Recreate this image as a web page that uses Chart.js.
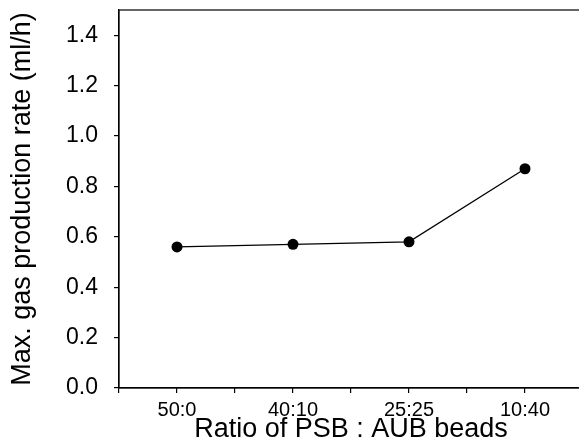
<!DOCTYPE html>
<html>
<head>
<meta charset="utf-8">
<script src="https://cdn.jsdelivr.net/npm/chart.js@4/dist/chart.umd.min.js"></script>
<style>
  html, body { margin: 0; padding: 0; background: #fff; overflow: hidden; }
  #wrap { width: 600px; height: 446px; }
</style>
</head>
<body>
<div id="wrap"><canvas id="chart" width="600" height="446"></canvas></div>
<script>
// Bead ratio groups (PSB : AUB) and the measured maximum gas production rate
const ratioLabels = ['50:0', '40:10', '25:25', '10:40'];
const maxGasRate = [0.56, 0.57, 0.58, 0.87];
const yTickValues = [0, 0.2, 0.4, 0.6, 0.8, 1.0, 1.2, 1.4];
const xTickValues = [0.5, 1, 1.5, 2, 2.5, 3, 3.5, 4, 4.5];

const points = maxGasRate.map((v, i) => ({ x: i + 1, y: v }));
const FONT = "'Liberation Sans', Arial, Helvetica, sans-serif";

// Box outline around the plotting area
const frame = {
  id: 'frame',
  afterDraw(chart) {
    const { ctx, chartArea: a } = chart;
    ctx.save();
    ctx.strokeStyle = '#000';
    ctx.lineWidth = 1.2;
    ctx.strokeRect(a.left, a.top, a.right - a.left, a.bottom - a.top);
    ctx.restore();
  }
};

new Chart(document.getElementById('chart'), {
  type: 'line',
  data: {
    datasets: [{
      data: points,
      borderColor: '#000',
      borderWidth: 1.3,
      backgroundColor: '#000',
      pointRadius: 5.5,
      pointHoverRadius: 5.5,
      pointBorderWidth: 0,
      tension: 0,
      fill: false
    }]
  },
  options: {
    responsive: false,
    devicePixelRatio: 1,
    animation: false,
    events: [],
    layout: { padding: { top: 10, right: 17, left: 0, bottom: 0 } },
    plugins: { legend: { display: false }, tooltip: { enabled: false } },
    scales: {
      x: {
        type: 'linear',
        min: 0.5,
        max: 4.5,
        afterBuildTicks(scale) { scale.ticks = xTickValues.map(v => ({ value: v })); },
        afterFit(scale) { scale.height = 58; scale.paddingLeft = 0; scale.paddingRight = 0; },
        border: { display: true, color: '#000', width: 1.2 },
        grid: { display: true, drawOnChartArea: false, drawTicks: true, tickLength: 5, color: '#000', lineWidth: 1.2 },
        ticks: {
          autoSkip: false,
          maxRotation: 0,
          padding: 5,
          color: '#000',
          font: { family: FONT, size: 20 },
          callback: (v) => Number.isInteger(v) ? ratioLabels[v - 1] : ''
        },
        title: {
          display: true,
          text: 'Ratio of PSB : AUB beads',
          color: '#000',
          font: { family: FONT, size: 27 },
          padding: { top: 0, bottom: 0 }
        }
      },
      y: {
        min: 0,
        max: 1.5,
        afterBuildTicks(scale) { scale.ticks = yTickValues.map(v => ({ value: v })); },
        afterFit(scale) { scale.width = 119; scale.paddingTop = 0; scale.paddingBottom = 0; },
        border: { display: true, color: '#000', width: 1.2 },
        grid: { display: true, drawOnChartArea: false, drawTicks: true, tickLength: 5, color: '#000', lineWidth: 1.2 },
        ticks: {
          padding: 16,
          color: '#000',
          font: { family: FONT, size: 23 },
          callback: (v) => v.toFixed(1)
        },
        title: {
          display: true,
          text: 'Max. gas production rate (ml/h)',
          color: '#000',
          font: { family: FONT, size: 27 },
          padding: { top: 6, bottom: 0 }
        }
      }
    }
  },
  plugins: [frame]
});
</script>
</body>
</html>
